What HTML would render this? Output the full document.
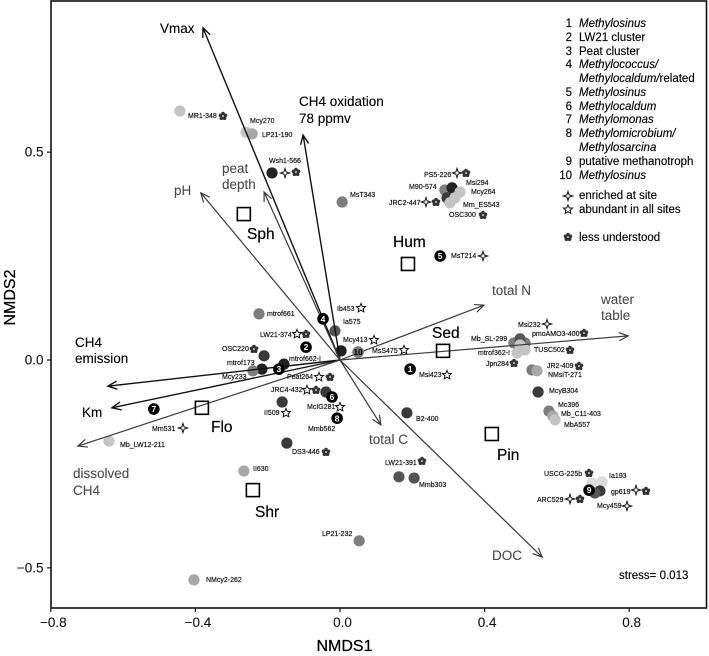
<!DOCTYPE html>
<html lang="en">
<head>
<meta charset="utf-8">
<title>NMDS ordination of methanotroph communities</title>
<style>
html,body{margin:0;padding:0;background:#fff;}
svg{display:block;font-family:"Liberation Sans",sans-serif;filter:blur(0.35px);}
.sp{font-size:7px;fill:#111;stroke:#111;stroke-width:0.18px;}
.vb{font-size:13.5px;fill:#000;stroke:#000;stroke-width:0.12px;}
.vg{font-size:13.5px;fill:#4a4a4a;stroke:#4a4a4a;stroke-width:0.08px;}
.site{font-size:15.5px;fill:#000;stroke:#000;stroke-width:0.18px;}
.lg{font-size:11.5px;fill:#000;stroke:#000;stroke-width:0.14px;}
.it{font-style:italic;}
.tick{font-size:13.5px;fill:#111;stroke:#111;stroke-width:0.1px;}
.axt{font-size:16px;fill:#000;stroke:#000;stroke-width:0.25px;}
</style>
</head>
<body>
<svg id="chart" width="709" height="656" viewBox="0 0 709 656">
<defs>
<g id="sym-enriched"><path d="M0,-4.6 L1.1,-1.1 L4.6,0 L1.1,1.1 L0,4.6 L-1.1,1.1 L-4.6,0 L-1.1,-1.1 Z" fill="#fff" stroke="#111" stroke-width="1"/></g>
<g id="sym-star"><path d="M0,-4.6 L1.3,-1.6 L4.5,-1.4 L2.1,0.7 L2.8,3.9 L0,2.2 L-2.8,3.9 L-2.1,0.7 L-4.5,-1.4 L-1.3,-1.6 Z" fill="#fff" stroke="#111" stroke-width="1"/></g>
<g id="sym-flower" fill="#333"><circle cx="0" cy="-2.5" r="1.8"/><circle cx="2.5" cy="-0.7" r="1.8"/><circle cx="1.6" cy="2.2" r="1.8"/><circle cx="-1.6" cy="2.2" r="1.8"/><circle cx="-2.5" cy="-0.7" r="1.8"/><circle cx="0" cy="0" r="0.8" fill="#bbb"/></g>
</defs>

<rect x="51" y="1" width="655.5" height="607" fill="#fff" stroke="#111" stroke-width="1.6"/>
<g id="ticks"></g>
<text class="axt" x="344.5" y="651" text-anchor="middle">NMDS1</text>
<text class="axt" transform="translate(15,297.5) rotate(-90)" text-anchor="middle">NMDS2</text>

<g id="points"></g>
<g id="vectors"></g>
<g id="sites"></g>
<g id="numbered"></g>

<g>
<text class="vb" x="160" y="33">Vmax</text>
<text class="vb" x="299" y="106">CH4 oxidation</text>
<text class="vb" x="299" y="123">78 ppmv</text>
<text class="vg" x="222" y="173">peat</text>
<text class="vg" x="222" y="189">depth</text>
<text class="vg" x="174" y="195">pH</text>
<text class="vg" x="492" y="295">total N</text>
<text class="vg" x="601" y="304">water</text>
<text class="vg" x="601" y="320">table</text>
<text class="vb" x="75" y="347">CH4</text>
<text class="vb" x="75" y="363">emission</text>
<text class="vb" x="82" y="417">Km</text>
<text class="vg" x="73" y="478">dissolved</text>
<text class="vg" x="73" y="495">CH4</text>
<text class="vg" x="369" y="444">total C</text>
<text class="vg" x="492" y="560">DOC</text>
</g>

<g>
<text class="site" x="247" y="239">Sph</text>
<text class="site" x="393" y="247">Hum</text>
<text class="site" x="432" y="338">Sed</text>
<text class="site" x="211" y="432">Flo</text>
<text class="site" x="497" y="460">Pin</text>
<text class="site" x="255" y="517">Shr</text>
</g>

<g>
<text class="sp" x="188" y="118">MR1-348</text>
<text class="sp" x="250" y="123">Mcy270</text>
<text class="sp" x="262" y="137">LP21-190</text>
<text class="sp" x="269" y="163">Wsh1-566</text>
<text class="sp" x="350" y="197">MsT343</text>
<text class="sp" x="424" y="177">PS5-226</text>
<text class="sp" x="409" y="189">M90-574</text>
<text class="sp" x="466" y="185">Msi294</text>
<text class="sp" x="471" y="194">Mcy264</text>
<text class="sp" x="389" y="205">JRC2-447</text>
<text class="sp" x="463" y="207">Mm_ES543</text>
<text class="sp" x="449" y="217">OSC300</text>
<text class="sp" x="451" y="258">MsT214</text>
<text class="sp" x="267" y="316">mtrof661</text>
<text class="sp" x="337" y="311">Ib453</text>
<text class="sp" x="343" y="324">Ia575</text>
<text class="sp" x="260" y="337">LW21-374</text>
<text class="sp" x="343" y="342">Mcy413</text>
<text class="sp" x="222" y="351">OSC220</text>
<text class="sp" x="227" y="365">mtrof173</text>
<text class="sp" x="289" y="361">mtrof662-I</text>
<text class="sp" x="222" y="379">Mcy233</text>
<text class="sp" x="287" y="379">Peat264</text>
<text class="sp" x="271" y="392">JRC4-432</text>
<text class="sp" x="307" y="409">McIG281</text>
<text class="sp" x="264" y="415">II509</text>
<text class="sp" x="308" y="431">Mmb562</text>
<text class="sp" x="152" y="431">Mm531</text>
<text class="sp" x="120" y="447">Mb_LW12-211</text>
<text class="sp" x="292" y="454">DS3-446</text>
<text class="sp" x="253" y="471">II630</text>
<text class="sp" x="322" y="536">LP21-232</text>
<text class="sp" x="206" y="582">NMcy2-262</text>
<text class="sp" x="372" y="353">MsS475</text>
<text class="sp" x="518" y="327">Msi232</text>
<text class="sp" x="532" y="336">pmoAMO3-400</text>
<text class="sp" x="471" y="341">Mb_SL-299</text>
<text class="sp" x="478" y="355">mtrof362-I</text>
<text class="sp" x="534" y="352">TUSC502</text>
<text class="sp" x="486" y="366">Jpn284</text>
<text class="sp" x="547" y="368">JR2-409</text>
<text class="sp" x="548" y="377">NMsiT-271</text>
<text class="sp" x="419" y="377">Msi423</text>
<text class="sp" x="549" y="393">McyB304</text>
<text class="sp" x="558" y="407">Mc396</text>
<text class="sp" x="561" y="416">Mb_C11-403</text>
<text class="sp" x="564" y="427">MbA557</text>
<text class="sp" x="416" y="421">B2-400</text>
<text class="sp" x="385" y="465">LW21-391</text>
<text class="sp" x="419" y="487">Mmb303</text>
<text class="sp" x="544" y="476">USCG-225b</text>
<text class="sp" x="609" y="478">Ia193</text>
<text class="sp" x="611" y="494">gp619</text>
<text class="sp" x="537" y="502">ARC529</text>
<text class="sp" x="597" y="508">Mcy459</text>
</g>

<g>
<use href="#sym-flower" x="223" y="116"/>
<use href="#sym-enriched" x="285" y="173"/>
<use href="#sym-flower" x="296" y="172"/>
<use href="#sym-enriched" x="457" y="173"/>
<use href="#sym-flower" x="466" y="173"/>
<use href="#sym-enriched" x="426" y="202"/>
<use href="#sym-flower" x="436" y="202"/>
<use href="#sym-flower" x="483" y="215"/>
<use href="#sym-enriched" x="483" y="256"/>
<use href="#sym-star" x="361" y="308"/>
<use href="#sym-star" x="297" y="334"/>
<use href="#sym-flower" x="306" y="334"/>
<use href="#sym-star" x="374" y="340"/>
<use href="#sym-flower" x="254" y="349"/>
<use href="#sym-star" x="319" y="377"/>
<use href="#sym-flower" x="330" y="377"/>
<use href="#sym-star" x="307" y="390"/>
<use href="#sym-flower" x="316" y="390"/>
<use href="#sym-star" x="340" y="407"/>
<use href="#sym-star" x="286" y="413"/>
<use href="#sym-enriched" x="183" y="428"/>
<use href="#sym-flower" x="326" y="452"/>
<use href="#sym-star" x="404" y="350"/>
<use href="#sym-enriched" x="547" y="324"/>
<use href="#sym-flower" x="584" y="333"/>
<use href="#sym-flower" x="570" y="350"/>
<use href="#sym-flower" x="514" y="363"/>
<use href="#sym-flower" x="579" y="366"/>
<use href="#sym-star" x="447" y="375"/>
<use href="#sym-flower" x="422" y="461"/>
<use href="#sym-flower" x="589" y="473"/>
<use href="#sym-enriched" x="636" y="490"/>
<use href="#sym-flower" x="646" y="491"/>
<use href="#sym-enriched" x="570" y="499"/>
<use href="#sym-flower" x="580" y="499"/>
<use href="#sym-enriched" x="627" y="506"/>
</g>

<text x="619" y="579" style="font-size:11.5px;fill:#000;stroke:#000;stroke-width:0.14px">stress= 0.013</text>

<g>
<g text-anchor="end" class="lg">
<text class="lg" x="572" y="27">1</text>
<text class="lg" x="572" y="41">2</text>
<text class="lg" x="572" y="55">3</text>
<text class="lg" x="572" y="68">4</text>
<text class="lg" x="572" y="96">5</text>
<text class="lg" x="572" y="110">6</text>
<text class="lg" x="572" y="123">7</text>
<text class="lg" x="572" y="137">8</text>
<text class="lg" x="572" y="165">9</text>
<text class="lg" x="572" y="179">10</text>
</g>
<text class="lg it" x="579" y="27">Methylosinus</text>
<text class="lg" x="579" y="41">LW21 cluster</text>
<text class="lg" x="579" y="55">Peat cluster</text>
<text class="lg it" x="579" y="68">Methylococcus/</text>
<text class="lg" x="579" y="82"><tspan class="it">Methylocaldum/</tspan>related</text>
<text class="lg it" x="579" y="96">Methylosinus</text>
<text class="lg it" x="579" y="110">Methylocaldum</text>
<text class="lg it" x="579" y="123">Methylomonas</text>
<text class="lg it" x="579" y="137">Methylomicrobium/</text>
<text class="lg it" x="579" y="151">Methylosarcina</text>
<text class="lg" x="579" y="165">putative methanotroph</text>
<text class="lg it" x="579" y="179">Methylosinus</text>
<use href="#sym-enriched" x="568" y="196"/>
<text class="lg" x="579" y="199">enriched at site</text>
<use href="#sym-star" x="568" y="209.5"/>
<text class="lg" x="579" y="213">abundant in all sites</text>
<use href="#sym-flower" x="568" y="237"/>
<text class="lg" x="579" y="241">less understood</text>
</g>

<script>
// ---- axis data ----
const xTickValues = [-0.8, -0.4, 0, 0.4, 0.8];
const xTickLabels = ['\u22120.8', '\u22120.4', '0.0', '0.4', '0.8'];
const yTickValues = [-0.5, 0, 0.5];
const yTickLabels = ['\u22120.5', '0.0', '0.5'];

// ---- species points (NMDS scores) ----
const pointNames = ['MR1-348','Mcy270','LP21-190','Wsh1-566','MsT343','mtrof661','Ia575','Mcy413','OSC220','mtrof173','Mcy233','mtrof662-I','Peat264','II509','DS3-446','Mb_LW12-211','II630','LP21-232','NMcy2-262','B2-400','LW21-391','Mmb303','Mb_SL-299','pmoAMO3-400','Msi232','TUSC502','mtrof362-Ia','Jpn284','JR2-409','NMsiT-271','McyB304','Mc396','Mb_C11-403','MbA557','Ia193','USCG-225b','gp619','Mcy459','M90-574','PS5-226','JRC2-447','Msi294','Mcy264','Mm_ES543'];
const pointNmds1 = [-0.443,-0.260,-0.243,-0.188,0.006,-0.224,-0.014,0.003,-0.210,-0.216,-0.241,-0.155,-0.039,-0.160,-0.147,-0.639,-0.266,0.053,-0.404,0.185,0.163,0.205,0.481,0.512,0.498,0.498,0.490,0.512,0.531,0.545,0.548,0.578,0.589,0.595,0.725,0.697,0.719,0.705,0.290,0.310,0.296,0.332,0.318,0.304];
const pointNmds2 = [0.599,0.548,0.544,0.450,0.380,0.111,0.070,0.022,0.010,-0.022,-0.026,-0.010,-0.077,-0.101,-0.200,-0.195,-0.267,-0.435,-0.529,-0.127,-0.281,-0.284,0.041,0.041,0.051,0.036,0.017,0.024,-0.024,-0.026,-0.077,-0.123,-0.135,-0.144,-0.293,-0.296,-0.315,-0.320,0.409,0.414,0.390,0.404,0.390,0.378];
const pointClass = [5,5,4,0,3,3,2,0,1,0,3,0,1,1,1,5,4,3,4,1,2,2,3,3,2,5,5,5,3,4,1,3,4,5,6,6,1,2,3,0,1,5,5,5];
const classGray = ['#222222','#3a3a3a','#555555','#7d7d7d','#a8a8a8','#c4c4c4','#dcdcdc'];

// ---- numbered clusters ----
const clusterNumbers = ['1','2','3','4','5','6','7','8','9','10'];
const clusterNmds1 = [0.194,-0.094,-0.169,-0.047,0.277,-0.022,-0.515,-0.008,0.689,0.050];
const clusterNmds2 = [-0.022,0.031,-0.022,0.099,0.250,-0.089,-0.118,-0.140,-0.313,0.019];

// ---- sites ----
const siteNames = ['Sph','Hum','Sed','Flo','Pin','Shr'];
const siteNmds1 = [-0.266,0.188,0.285,-0.382,0.420,-0.241];
const siteNmds2 = [0.351,0.231,0.022,-0.115,-0.178,-0.313];

// ---- environmental vectors ----
const vectorNames = ['vmax','ch4-oxidation','peat-depth','ph','ch4-emission','km','dissolved-ch4','total-c','doc','water-table','total-n'];
const vectorNmds1 = [-0.379,-0.102,-0.210,-0.385,-0.642,-0.631,-0.725,0.113,0.559,0.797,0.398];
const vectorNmds2 = [0.799,0.541,0.404,0.402,-0.063,-0.115,-0.207,-0.156,-0.474,0.058,0.132];
const vectorTone = ['strong','strong','soft','soft','strong','strong','soft','soft','soft','soft','soft'];

const NS = 'http://www.w3.org/2000/svg';
const xAxis = v => 340 + v * 361.5;
const yAxis = v => 360 - v * 415.7;

function make(tag, parentId, props) {
  const el = document.createElementNS(NS, tag);
  for (const k in props) el.setAttribute(k, props[k]);
  document.getElementById(parentId).appendChild(el);
  return el;
}

xTickValues.forEach((v, i) => {
  const t = make('line', 'ticks', {x1: xAxis(v), x2: xAxis(v), y1: 608, y2: 612, stroke: '#111', 'stroke-width': 1.2});
  
  
  const l = make('text', 'ticks', {x: xAxis(v) + 2.5, y: 627, 'text-anchor': 'middle', class: 'tick'});
  l.textContent = xTickLabels[i];
  
  
});
yTickValues.forEach((v, i) => {
  const t = make('line', 'ticks', {x1: 47, x2: 51, y1: yAxis(v), y2: yAxis(v), stroke: '#111', 'stroke-width': 1.2});
  
  
  const l = make('text', 'ticks', {x: 43.5, y: yAxis(v) + 4.5, 'text-anchor': 'end', class: 'tick'});
  l.textContent = yTickLabels[i];
  
  
});

pointNames.forEach((n, i) => {
  const c = make('circle', 'points', {cx: xAxis(pointNmds1[i]), cy: yAxis(pointNmds2[i]), r: 5.6, fill: classGray[pointClass[i]]});
  
  
});

vectorNames.forEach((n, i) => {
  const x0 = xAxis(0), y0 = yAxis(0), x1 = xAxis(vectorNmds1[i]), y1 = yAxis(vectorNmds2[i]);
  const color = vectorTone[i] === 'strong' ? '#111' : '#3a3a3a';
  const width = vectorTone[i] === 'strong' ? 1.4 : 1.2;
  const a = Math.atan2(y1 - y0, x1 - x0), h = 10, s = 0.42;
  const line = make('line', 'vectors', {x1: x0, y1: y0, x2: x1, y2: y1, stroke: color, 'stroke-width': width});
  
  
  const head = make('polyline', 'vectors', {
    points: (x1 - h * Math.cos(a - s)) + ',' + (y1 - h * Math.sin(a - s)) + ' ' + x1 + ',' + y1 + ' ' + (x1 - h * Math.cos(a + s)) + ',' + (y1 - h * Math.sin(a + s)),
    fill: 'none', stroke: color, 'stroke-width': width
  });
  
  
});

siteNames.forEach((n, i) => {
  const r = make('rect', 'sites', {x: xAxis(siteNmds1[i]) - 6.5, y: yAxis(siteNmds2[i]) - 6.5, width: 13, height: 13, fill: 'none', stroke: '#000', 'stroke-width': 1.6});
  
  
});

clusterNumbers.forEach((n, i) => {
  const last = n === '10';
  const cx = xAxis(clusterNmds1[i]), cy = yAxis(clusterNmds2[i]);
  const c = make('circle', 'numbered', {cx: cx, cy: cy, r: 5.8, fill: last ? '#777' : '#000'});
  
  
  const t = make('text', 'numbered', {x: cx, y: cy + 3.1, 'text-anchor': 'middle', 'font-size': 8.5, 'font-weight': 'bold', fill: last ? '#000' : '#fff'});
  t.textContent = n;
  
  
});
</script>
</svg>
</body>
</html>
